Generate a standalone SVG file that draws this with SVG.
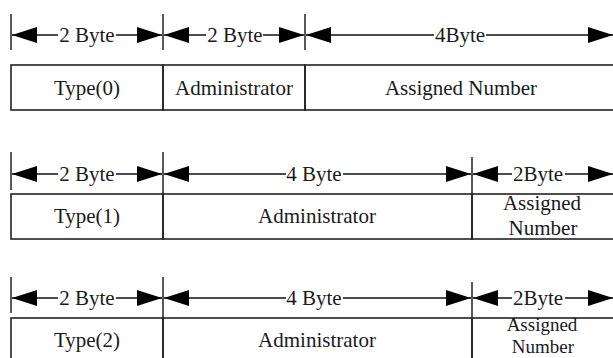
<svg xmlns="http://www.w3.org/2000/svg" width="613" height="358" viewBox="0 0 613 358">
<style>
.t{font-family:"Liberation Serif","Times New Roman",serif;font-size:21px;fill:#1a1a1a;text-anchor:middle}
.s{font-size:19px}
.box{fill:none;stroke:#222;stroke-width:1.6}
.ln{stroke:#111;stroke-width:1.5;fill:none}
.tick{stroke:#222;stroke-width:1.5}
.al{marker-start:url(#ah)}
.ar{marker-end:url(#ah)}
</style>
<defs>
<marker id="ah" viewBox="0 0 25 16" refX="25" refY="8" markerWidth="25" markerHeight="16" markerUnits="userSpaceOnUse" orient="auto-start-reverse">
<path d="M0,0 L25,8 L0,16 z" fill="#000"/>
</marker>
</defs>
<rect width="613" height="358" fill="#fff"/>

<g id="row0">
<g id="r0-type"><rect class="box" x="11" y="65" width="152" height="45"/><text class="t" x="87" y="95">Type(0)</text></g>
<g id="r0-admin"><rect class="box" x="163" y="65" width="142" height="45"/><text class="t" x="234" y="95">Administrator</text></g>
<g id="r0-num"><rect class="box" x="305" y="65" width="312" height="45"/><text class="t" x="461" y="95">Assigned Number</text></g>
</g>

<g id="row1">
<g id="r1-type"><rect class="box" x="11" y="194" width="152" height="45"/><text class="t" x="87" y="223">Type(1)</text></g>
<g id="r1-admin"><rect class="box" x="163" y="194" width="309" height="45"/><text class="t" x="317" y="223">Administrator</text></g>
<g id="r1-num"><rect class="box" x="472" y="194" width="145" height="45"/><text class="t" x="542" y="210">Assigned</text><text class="t" x="543" y="235">Number</text></g>
</g>

<g id="row2">
<g id="r2-type"><rect class="box" x="11" y="318" width="152" height="45"/><text class="t" x="87" y="347">Type(2)</text></g>
<g id="r2-admin"><rect class="box" x="163" y="318" width="309" height="45"/><text class="t" x="317" y="347">Administrator</text></g>
<g id="r2-num"><rect class="box" x="472" y="318" width="145" height="45"/><text class="t s" x="542" y="331">Assigned</text><text class="t s" x="543" y="353">Number</text></g>
</g>

<g id="connectors">
<!-- row 0 -->
<line class="tick" x1="11" y1="14" x2="11" y2="50"/>
<line class="tick" x1="163" y1="14" x2="163" y2="50"/>
<line class="tick" x1="305" y1="14" x2="305" y2="50"/>
<line class="ln al" x1="12" y1="35" x2="58" y2="35"/>
<line class="ln ar" x1="116" y1="35" x2="162" y2="35"/>
<text class="t" x="87" y="42">2 Byte</text>
<line class="ln al" x1="164" y1="35" x2="206" y2="35"/>
<line class="ln ar" x1="263" y1="35" x2="304" y2="35"/>
<text class="t" x="235" y="42">2 Byte</text>
<line class="ln al" x1="306" y1="35" x2="434" y2="35"/>
<line class="ln ar" x1="486" y1="35" x2="613" y2="35"/>
<text class="t" x="460" y="42">4Byte</text>
<!-- row 1 -->
<line class="tick" x1="11" y1="152" x2="11" y2="190"/>
<line class="tick" x1="163" y1="152" x2="163" y2="194"/>
<line class="tick" x1="472" y1="157" x2="472" y2="194"/>
<line class="ln al" x1="12" y1="174" x2="58" y2="174"/>
<line class="ln ar" x1="116" y1="174" x2="162" y2="174"/>
<text class="t" x="87" y="181">2 Byte</text>
<line class="ln al" x1="164" y1="174" x2="286" y2="174"/>
<line class="ln ar" x1="343" y1="174" x2="471" y2="174"/>
<text class="t" x="314" y="181">4 Byte</text>
<line class="ln al" x1="473" y1="174" x2="512" y2="174"/>
<line class="ln ar" x1="565" y1="174" x2="613" y2="174"/>
<text class="t" x="538" y="181">2Byte</text>
<!-- row 2 -->
<line class="tick" x1="11" y1="277" x2="11" y2="313"/>
<line class="tick" x1="163" y1="277" x2="163" y2="318"/>
<line class="tick" x1="472" y1="282" x2="472" y2="318"/>
<line class="ln al" x1="12" y1="298" x2="58" y2="298"/>
<line class="ln ar" x1="116" y1="298" x2="162" y2="298"/>
<text class="t" x="87" y="305">2 Byte</text>
<line class="ln al" x1="164" y1="298" x2="286" y2="298"/>
<line class="ln ar" x1="343" y1="298" x2="471" y2="298"/>
<text class="t" x="314" y="305">4 Byte</text>
<line class="ln al" x1="473" y1="298" x2="512" y2="298"/>
<line class="ln ar" x1="565" y1="298" x2="613" y2="298"/>
<text class="t" x="538" y="305">2Byte</text>
</g>
</svg>
